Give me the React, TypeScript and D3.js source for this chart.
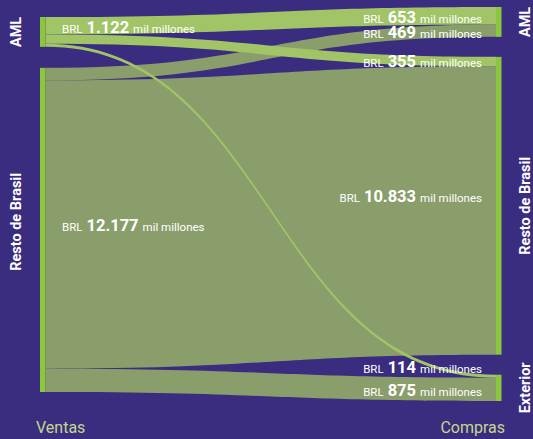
import React, { useEffect } from "react";
import * as d3 from "d3";

// ---- data ----
const sourceNodes = ["AML", "Resto de Brasil"];
const targetNodes = ["AML", "Resto de Brasil", "Exterior"];
const flowSource = [0, 0, 0, 1, 1, 1];
const flowTarget = [0, 1, 2, 0, 1, 2];
const flowValue = [653, 355, 114, 469, 10833, 875];
const columnLabels = ["Ventas", "Compras"];

const W = 533;
const H = 439;
const BG = "#3a2c7f";
const BAR = "#8cc63f";
const LINK_COLORS = ["#a0c466", "#8a9e6c"];
const AXIS_TEXT = "#c6d78c";
const FONT = "Roboto, 'Liberation Sans', sans-serif";

const esLocale = d3.formatLocale({ decimal: ",", thousands: ".", grouping: [3], currency: ["", ""] });
const fmt = esLocale.format(",");

type Link = { s: number; t: number; v: number; sy0: number; sy1: number; ty0: number; ty1: number };

function layout() {
  const total = d3.sum(flowValue);
  const h = d3.scaleLinear().domain([0, total]).range([0, 354]);
  const links: Link[] = flowValue.map((v, i) => ({ s: flowSource[i], t: flowTarget[i], v, sy0: 0, sy1: 0, ty0: 0, ty1: 0 }));
  const stack = (names: string[], key: "s" | "t", extent: [number, number]) => {
    const vals = names.map((_, i) => d3.sum(links.filter((l) => l[key] === i), (l) => l.v));
    const used = d3.sum(vals, (v) => h(v));
    const pad = names.length > 1 ? (extent[1] - extent[0] - used) / (names.length - 1) : 0;
    let y = extent[0];
    return names.map((name, i) => {
      const node = { name, value: vals[i], y0: y, y1: y + h(vals[i]) };
      y = node.y1 + pad;
      return node;
    });
  };
  const left = stack(sourceNodes, "s", [17, 392]);
  const right = stack(targetNodes, "t", [7, 401]);
  left.forEach((n, i) => {
    let y = n.y0;
    links.filter((l) => l.s === i).sort((a, b) => a.t - b.t).forEach((l) => {
      l.sy0 = y; y += h(l.v); l.sy1 = y;
    });
  });
  right.forEach((n, i) => {
    let y = n.y0;
    links.filter((l) => l.t === i).sort((a, b) => a.s - b.s).forEach((l) => {
      l.ty0 = y; y += h(l.v); l.ty1 = y;
    });
  });
  return { left, right, links };
}

function band(x0: number, x1: number, l: Link) {
  const xm = (x0 + x1) / 2;
  const p = d3.path();
  p.moveTo(x0, l.sy0);
  p.bezierCurveTo(xm, l.sy0, xm, l.ty0, x1, l.ty0);
  p.lineTo(x1, l.ty1);
  p.bezierCurveTo(xm, l.ty1, xm, l.sy1, x0, l.sy1);
  p.closePath();
  return p.toString();
}

function ValueLabel({ x, y, anchor, value }: { x: number; y: number; anchor: "start" | "end"; value: number }) {
  return (
    <text x={x} y={y} textAnchor={anchor} fill="#ffffff" fontFamily={FONT}>
      <tspan fontSize={11.5}>BRL</tspan>
      <tspan dx={4} fontSize={16.5} fontWeight={700}>{fmt(value)}</tspan>
      <tspan dx={4} fontSize={11.5}>mil millones</tspan>
    </text>
  );
}

export default function App() {
  useEffect(() => {
    document.body.style.margin = "0";
    document.body.style.background = BG;
  }, []);
  const { left, right, links } = layout();
  const leftX = 40;
  const rightX = 496;
  const barW = 5.5;
  const x0 = leftX + barW;
  const x1 = rightX;
  const drawOrder = [...links].sort((a, b) => b.s - a.s);

  return (
    <svg width={W} height={H} style={{ display: "block", position: "absolute", left: 0, top: 0 }}>
      <rect width={W} height={H} fill={BG} />
      {drawOrder.map((l, i) => (
        <path key={i} d={band(x0, x1, l)} fill={LINK_COLORS[l.s]} />
      ))}
      {left.map((n, i) => (
        <rect key={"l" + i} x={leftX} y={n.y0} width={barW} height={n.y1 - n.y0} fill={BAR} />
      ))}
      {right.map((n, i) => (
        <rect key={"r" + i} x={rightX} y={n.y0} width={barW} height={n.y1 - n.y0} fill={BAR} />
      ))}
      {left.map((n, i) => (
        <text key={"ln" + i} transform={`translate(21,${(n.y0 + n.y1) / 2 - (i === 1 ? 8 : 0)}) rotate(-90)`} textAnchor="middle"
          fill="#fff" fontWeight={700} fontSize={14.5} fontFamily={FONT}>{n.name}</text>
      ))}
      {right.map((n, i) => (
        <text key={"rn" + i} transform={`translate(529.5,${(n.y0 + n.y1) / 2}) rotate(-90)`} textAnchor="middle"
          fill="#fff" fontWeight={700} fontSize={14.5} fontFamily={FONT}>{n.name}</text>
      ))}
      {left.map((n, i) => (
        <ValueLabel key={"lv" + i} x={62} y={(n.y0 + n.y1) / 2 + 1} anchor="start" value={n.value} />
      ))}
      {links.map((l, i) => {
        const hgt = l.ty1 - l.ty0;
        const y = hgt < 5 ? l.ty0 - 2 : hgt < 12 ? l.ty1 + 1 : hgt > 100 ? (l.ty0 + l.ty1) / 2 - 8 : (l.ty0 + l.ty1) / 2 + 7;
        return <ValueLabel key={"v" + i} x={482} y={y} anchor="end" value={l.v} />;
      })}
      <text x={36} y={433} fill={AXIS_TEXT} fontSize={16} fontFamily={FONT}>{columnLabels[0]}</text>
      <text x={505} y={433} textAnchor="end" fill={AXIS_TEXT} fontSize={16} fontFamily={FONT}>{columnLabels[1]}</text>
    </svg>
  );
}
